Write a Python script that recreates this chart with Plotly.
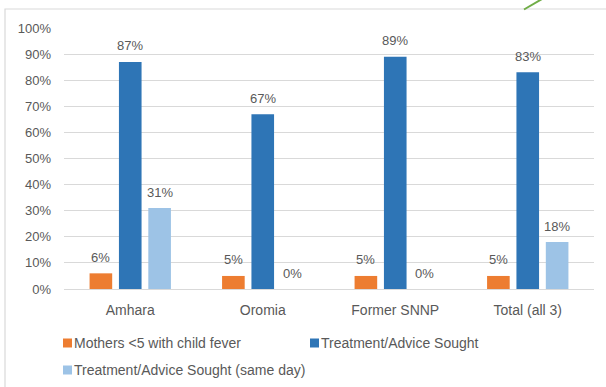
import plotly.graph_objects as go

# Survey results by region (percent)
regions = ["Amhara", "Oromia", "Former SNNP", "Total (all 3)"]
mothers_fever = [6, 5, 5, 5]
advice_sought = [87, 67, 89, 83]
advice_same_day = [31, 0, 0, 18]

series_names = [
    "Mothers <5 with child fever",
    "Treatment/Advice Sought",
    "Treatment/Advice Sought (same day)",
]
series_values = [mothers_fever, advice_sought, advice_same_day]
series_colors = ["#ED7D31", "#2E75B6", "#9DC3E6"]

y_ticks = list(range(0, 101, 10))
y_tick_labels = [f"{v}%" for v in y_ticks]

FONT = "Liberation Sans, Arial, sans-serif"
TEXT = "#595959"
GRID = "#D9D9D9"

W, H = 606, 387
ML, MR, MT, MB = 64, 12, 28, 98
PW, PH = W - ML - MR, H - MT - MB
BARGAP = 0.335

def px_x(px):
    return (px - ML) / PW

def px_y(py):
    return (H - MB - py) / PH

fig = go.Figure()
for name, vals, col in zip(series_names, series_values, series_colors):
    fig.add_trace(go.Bar(
        x=regions, y=vals, name=name,
        marker=dict(color=col, line=dict(width=0)),
        showlegend=False,
    ))

# Value labels above each bar
slot = (1 - BARGAP) / len(series_values)
annotations = []
for j, vals in enumerate(series_values):
    for i, v in enumerate(vals):
        annotations.append(dict(
            x=i + (j - 1) * slot, y=v, xref="x", yref="y",
            text=f"{v}%", showarrow=False, yanchor="middle", yshift=16,
            font=dict(family=FONT, size=13, color=TEXT),
        ))

# Legend: coloured squares with text
legend_items = [(63, 343), (310, 343), (63, 370)]
shapes = []
for (lx, ly), name, col in zip(legend_items, series_names, series_colors):
    shapes.append(dict(
        type="rect", xref="paper", yref="paper",
        x0=px_x(lx), x1=px_x(lx + 9), y0=px_y(ly + 4.5), y1=px_y(ly - 4.5),
        fillcolor=col, line=dict(width=0),
    ))
    annotations.append(dict(
        x=px_x(lx + 9), y=px_y(ly), xref="paper", yref="paper",
        text=name, showarrow=False, xanchor="left", yanchor="middle",
        font=dict(family=FONT, size=14, color=TEXT),
    ))

# Chart frame and the accent stroke at the top edge
shapes.append(dict(
    type="rect", xref="paper", yref="paper",
    x0=px_x(5), x1=px_x(640), y0=px_y(420), y1=px_y(9),
    line=dict(color=GRID, width=1.2), fillcolor="rgba(0,0,0,0)", layer="below",
))
shapes.append(dict(
    type="line", xref="paper", yref="paper",
    x0=px_x(524), x1=px_x(542), y0=px_y(9.5), y1=px_y(-1),
    line=dict(color="#70AD47", width=2),
))

fig.update_layout(
    width=W, height=H,
    margin=dict(l=ML, r=MR, t=MT, b=MB),
    barmode="group", bargap=BARGAP, bargroupgap=0.23,
    plot_bgcolor="white", paper_bgcolor="white",
    font=dict(family=FONT, size=12, color=TEXT),
    annotations=annotations, shapes=shapes,
    xaxis=dict(
        showgrid=False, showline=False, zeroline=False,
        tickfont=dict(family=FONT, size=14, color=TEXT),
        ticks="", ticklabelstandoff=11,
    ),
    yaxis=dict(
        range=[0, 100], tickvals=y_ticks, ticktext=y_tick_labels,
        showgrid=True, gridcolor=GRID, gridwidth=1,
        zeroline=True, zerolinecolor=GRID, zerolinewidth=1,
        showline=False, ticks="", ticklabelstandoff=12,
        tickfont=dict(family=FONT, size=13, color=TEXT),
    ),
)

fig.write_html("out.html")
